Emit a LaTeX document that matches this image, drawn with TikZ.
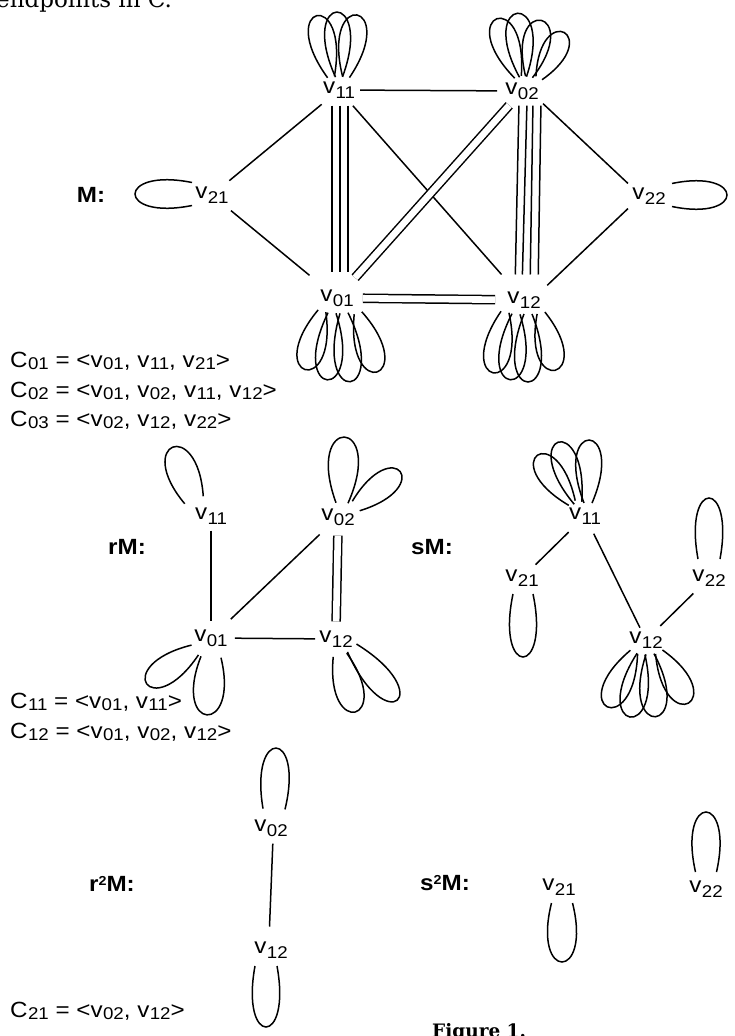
\documentclass[tikz,border=0pt]{standalone}
\usepackage{fontspec}
\newfontfamily\lf{Liberation Sans}[FakeStretch=1.1]
\newfontfamily\bodyserif{DejaVu Serif}
\newcommand\lsz{\fontsize{22}{26}\selectfont}
\newcommand\ssz{\fontsize{17}{20}\selectfont}
% vertex names and cycle names with lowered indices
\newcommand\vlab[1]{v\kern0.4pt\raisebox{-5pt}{\ssz #1}}
\newcommand\vtxt[1]{v\kern0.4pt\raisebox{-2.5pt}{\ssz #1}}
\newcommand\ctxt[1]{C\kern0.4pt\raisebox{-2pt}{\ssz #1}}
\newcommand\supr[1]{\raisebox{6.5pt}{\fontsize{13}{14}\selectfont #1}}

\tikzset{
  edge/.style={line width=1.5pt},
  petalline/.style={line width=1.5pt},
  dbl/.style={double, double distance=6.6pt, line width=1.5pt},
  vtx/.style={font=\lf\lsz, inner sep=2pt},
  lbl/.style={font=\lf\lsz\bfseries, inner sep=0pt},
  txt/.style={font=\lf\lsz, anchor=base west, inner sep=0pt}
}

% self-loop petal: node, offset of base (dx,dy), direction, length, width, gap of the two ends
\newcommand\drawpetal[7]{%
  \pgfmathsetmacro\pLc{#5/0.75}%
  \pgfmathsetmacro\pLs{max((#6-0.79*#7)/0.577,1)}%
  \pgfmathsetmacro\pL{sqrt(\pLc*\pLc+\pLs*\pLs)}%
  \pgfmathsetmacro\pD{atan2(\pLs,\pLc)}%
  \pgfmathsetmacro\pOut{#4+\pD}%
  \pgfmathsetmacro\pIn{#4-\pD}%
  \pgfmathsetmacro\pAx{#2+(#7/2)*cos(#4+90)}%
  \pgfmathsetmacro\pAy{#3+(#7/2)*sin(#4+90)}%
  \pgfmathsetmacro\pBx{#2+(#7/2)*cos(#4-90)}%
  \pgfmathsetmacro\pBy{#3+(#7/2)*sin(#4-90)}%
  \draw[petalline] ([shift={(\pAx,\pAy)}]#1.center)
    to[out=\pOut,in=\pIn,distance=\pL pt] ([shift={(\pBx,\pBy)}]#1.center);}

\begin{document}
\begin{tikzpicture}[x=1pt,y=1pt]
\useasboundingbox (0,-1036) rectangle (735,0);

% running text cut by the page edges
\node[anchor=base west, inner sep=0pt, font=\bodyserif\fontsize{23}{27}\selectfont] (topline) at (-4,-8) {endpoints in C.};
\node[anchor=base west, inner sep=0pt, font=\bodyserif\bfseries\fontsize{18.5}{22}\selectfont] (figcap) at (432,-1037) {Figure 1.};

% ---------------- M ----------------
\node[lbl] (labM) at (91,-195) {M:};
\node[vtx] (m21) at (212,-195) {\vlab{21}};
\node[vtx] (m11) at (339,-90) {\vlab{11}};
\node[vtx] (m02) at (522,-91) {\vlab{02}};
\node[vtx] (m22) at (649,-196) {\vlab{22}};
\node[vtx] (m01) at (337,-298) {\vlab{01}};
\node[vtx] (m12) at (524,-300) {\vlab{12}};

\draw[edge, shorten <=6pt, shorten >=6pt] (m21) -- (m11);
\draw[edge, shorten <=8pt, shorten >=19pt] (m21) -- (m01);
\draw[edge, shorten <=3pt, shorten >=6pt] (m11) -- (m02);
\foreach \a/\b in {-7/-5, 1/3, 9/11}
  \draw[edge, shorten <=5pt, shorten >=15pt] ([xshift=\a pt]m11.south) -- ([xshift=\b pt]m01.north);
\draw[edge, shorten <=7pt, shorten >=20pt] (m11) -- (m12);
\draw[dbl, shorten <=5pt, shorten >=13pt] (m02) -- (m01);
\foreach \a/\b in {-3/-9, 5/-2, 11/6, 19/14}
  \draw[edge, shorten <=4pt, shorten >=15pt] ([xshift=\a pt]m02.south) -- ([xshift=\b pt]m12.north);
\draw[edge, shorten <=3pt, shorten >=3pt] (m02.south east) -- (m22.north west);
\draw[edge, shorten <=3pt, shorten >=6pt] (m22.south west) -- (m12.north east);
\draw[dbl, shorten <=7pt, shorten >=10pt] (m01) -- (m12);

\drawpetal{m11}{-8}{13}{103}{63}{26}{7}
\drawpetal{m11}{0}{13}{92}{65}{26}{7}
\drawpetal{m11}{7}{13}{80}{63}{27}{7}
\drawpetal{m02}{-4}{14}{110}{62}{27}{7}
\drawpetal{m02}{1}{14}{95}{64}{27}{7}
\drawpetal{m02}{7}{14}{78}{58}{27}{7}
\drawpetal{m02}{17}{13}{61}{52}{25}{7}
\drawpetal{m01}{-15}{-13}{254}{61}{27}{8}
\drawpetal{m01}{-5}{-15}{266}{67}{27}{8}
\drawpetal{m01}{7}{-15}{275}{69}{27}{8}
\drawpetal{m01}{21}{-15}{288}{62}{27}{8}
\drawpetal{m12}{-19}{-12}{259}{62}{27}{8}
\drawpetal{m12}{-8}{-14}{265}{66}{27}{8}
\drawpetal{m12}{4}{-14}{270}{68}{27}{8}
\drawpetal{m12}{17}{-13}{284}{59}{27}{8}
\drawpetal{m21}{-20}{1}{180}{57}{27}{23}
\drawpetal{m22}{23}{1}{0}{55}{27}{23}

\node[txt] (c01) at (10,-367) {\ctxt{01} = <\vtxt{01}, \vtxt{11}, \vtxt{21}>};
\node[txt] (c02) at (10,-397) {\ctxt{02} = <\vtxt{01}, \vtxt{02}, \vtxt{11}, \vtxt{12}>};
\node[txt] (c03) at (10,-426) {\ctxt{03} = <\vtxt{02}, \vtxt{12}, \vtxt{22}>};

% ---------------- rM ----------------
\node[lbl] (labrM) at (127,-547) {rM:};
\node[vtx] (r11) at (211,-516) {\vlab{11}};
\node[vtx] (r02) at (338,-517) {\vlab{02}};
\node[vtx] (r01) at (211,-638) {\vlab{01}};
\node[vtx] (r12) at (336,-639) {\vlab{12}};

\draw[edge, shorten <=4pt, shorten >=6pt] (r11) -- (r01);
\draw[edge, shorten <=10pt, shorten >=12pt] (r02) -- (r01);
\draw[dbl, shorten <=8pt, shorten >=7pt] (r02.south) -- (r12.north);
\draw[edge, shorten <=5pt, shorten >=2pt] (r01) -- (r12);

\drawpetal{r11}{-17}{16}{112}{57}{30}{20}
\drawpetal{r02}{4}{14}{88}{66}{30}{12}
\drawpetal{r02}{18}{11}{38}{56}{26}{12}
\drawpetal{r01}{-16}{-12}{215}{59}{27}{12}
\drawpetal{r01}{0}{-19}{266}{58}{30}{20}
\drawpetal{r12}{4}{-16}{285}{59}{28}{14}
\drawpetal{r12}{16}{-9}{311}{69}{26}{12}

\node[txt] (c11) at (10,-708) {\ctxt{11} = <\vtxt{01}, \vtxt{11}>};
\node[txt] (c12) at (10,-738) {\ctxt{12} = <\vtxt{01}, \vtxt{02}, \vtxt{12}>};

% ---------------- sM ----------------
\node[lbl] (labsM) at (432,-547) {sM:};
\node[vtx] (s11) at (585,-516) {\vlab{11}};
\node[vtx] (s21) at (522,-578) {\vlab{21}};
\node[vtx] (s22) at (709,-578) {\vlab{22}};
\node[vtx] (s12) at (646,-640) {\vlab{12}};

\draw[edge, shorten <=8pt, shorten >=4pt] (s11) -- (s21);
\draw[edge, shorten <=8pt, shorten >=2pt] (s11) -- (s12);
\draw[edge, shorten <=7pt, shorten >=5pt] (s22) -- (s12);

\drawpetal{s11}{-13}{13}{126}{59}{26}{8}
\drawpetal{s11}{-7}{13}{108}{64}{26}{8}
\drawpetal{s11}{3}{13}{89}{63}{26}{8}
\drawpetal{s21}{1}{-16}{270}{63}{26}{20}
\drawpetal{s22}{0}{19}{90}{61}{26}{22}
\drawpetal{s12}{-12}{-12}{244}{61}{27}{8}
\drawpetal{s12}{-5}{-14}{260}{64}{27}{8}
\drawpetal{s12}{4}{-14}{275}{63}{27}{8}
\drawpetal{s12}{13}{-12}{300}{59}{27}{8}

% ---------------- r^2M ----------------
\node[lbl] (labr2M) at (112,-884) {r\supr{2}M:};
\node[vtx] (t02) at (271,-828) {\vlab{02}};
\node[vtx] (t12) at (271,-950) {\vlab{12}};
\draw[edge, shorten <=5pt, shorten >=13pt] ([xshift=2pt]t02.south) -- ([xshift=-2pt]t12.north);
\drawpetal{t02}{3}{19}{88}{61}{27}{22}
\drawpetal{t12}{-5}{-16}{270}{61}{26}{22}

\node[txt] (c21) at (10,-1017) {\ctxt{21} = <\vtxt{02}, \vtxt{12}>};

% ---------------- s^2M ----------------
\node[lbl] (labs2M) at (445,-883) {s\supr{2}M:};
\node[vtx] (u21) at (559,-887) {\vlab{21}};
\node[vtx] (u22) at (706,-889) {\vlab{22}};
\drawpetal{u21}{3}{-16}{270}{59}{28}{21}
\drawpetal{u22}{0}{17}{90}{60}{27}{21}

\end{tikzpicture}
\end{document}
